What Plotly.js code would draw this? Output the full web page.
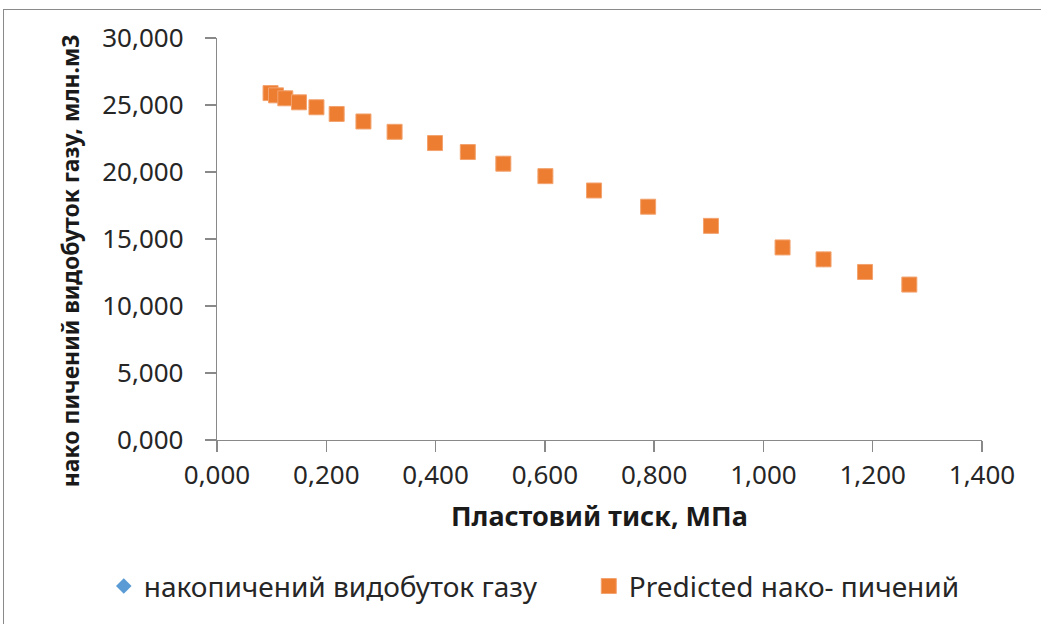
<!DOCTYPE html>
<html>
<head>
<meta charset="utf-8">
<script src="https://cdn.plot.ly/plotly-3.0.1.min.js"></script>
<style>
  html, body { margin: 0; padding: 0; background: #fff; overflow: hidden; }
  #chart { width: 1041px; height: 624px; }
  #frame { position: absolute; left: 3px; top: 9px; width: 1100px; height: 700px;
           border: 1.5px solid #8a8a8a; pointer-events: none; z-index: 10; }
</style>
</head>
<body>
<div id="frame"></div>
<div id="chart"></div>
<script>
// Пластовий тиск, МПа
const pressure = [0.098, 0.108, 0.125, 0.150, 0.182, 0.219, 0.268, 0.325, 0.399, 0.459,
                  0.524, 0.601, 0.690, 0.789, 0.904, 1.035, 1.110, 1.186, 1.267];
// накопичений видобуток газу, млн.м3
const actualProduction = [25.89, 25.72, 25.50, 25.20, 24.83, 24.33, 23.77, 23.00, 22.16, 21.49,
                          20.62, 19.69, 18.62, 17.41, 15.98, 14.37, 13.48, 12.54, 11.60];
// Predicted
const predictedProduction = [25.89, 25.72, 25.50, 25.20, 24.83, 24.33, 23.77, 23.00, 22.16, 21.49,
                             20.62, 19.69, 18.62, 17.41, 15.98, 14.37, 13.48, 12.54, 11.60];

const seriesNames = ['накопичений видобуток газу', 'Predicted нако- пичений'];
const xTitle = 'Пластовий тиск, МПа';
const yTitle = 'нако пичений видобуток газу, млн.м3';

const FONT = '"Noto Sans", "Open Sans", sans-serif';

const traces = [
  {
    x: pressure, y: actualProduction, name: seriesNames[0],
    type: 'scatter', mode: 'markers',
    marker: { symbol: 'diamond', size: 12, color: '#5B9BD5' },
    legend: 'legend'
  },
  {
    x: pressure, y: predictedProduction, name: seriesNames[1],
    type: 'scatter', mode: 'markers',
    marker: { symbol: 'square', size: 15, color: '#ED7D31',
              line: { color: '#F3A36F', width: 1 } },
    legend: 'legend2'
  }
];

const axisCommon = {
  showgrid: false, zeroline: false, showline: true,
  linecolor: '#898989', linewidth: 1.3,
  ticks: 'outside', ticklen: 11, tickcolor: '#898989', tickwidth: 1.3,
  tickformat: '.3f',
  tickfont: { family: FONT, size: 26, color: '#262626' }
};

const layout = {
  width: 1041, height: 624,
  margin: { l: 217, r: 59, t: 38, b: 181 },
  paper_bgcolor: 'rgba(0,0,0,0)', plot_bgcolor: 'rgba(0,0,0,0)',
  separators: ', ',
  showlegend: true,
  xaxis: Object.assign({}, axisCommon, {
    range: [0, 1.4], dtick: 0.2, tick0: 0, ticklabelstandoff: 0
  }),
  yaxis: Object.assign({}, axisCommon, {
    range: [0, 30], dtick: 5, tick0: 0, ticklabelstandoff: 16
  }),
  legend: {
    orientation: 'h', x: -0.148, xanchor: 'left', y: -0.364, yanchor: 'middle',
    font: { family: FONT, size: 28, color: '#262626' }, bgcolor: 'rgba(0,0,0,0)'
  },
  legend2: {
    orientation: 'h', x: 0.486, xanchor: 'left', y: -0.364, yanchor: 'middle',
    font: { family: FONT, size: 28, color: '#262626' }, bgcolor: 'rgba(0,0,0,0)'
  },
  annotations: [
    { text: xTitle, xref: 'paper', yref: 'paper', x: 0.5, y: -0.189,
      xanchor: 'center', yanchor: 'middle', showarrow: false,
      font: { family: FONT, size: 27, color: '#1a1a1a', weight: 'bold' } },
    { text: yTitle, xref: 'paper', yref: 'paper', x: -0.192, y: 0.445,
      xanchor: 'center', yanchor: 'middle', showarrow: false, textangle: -90,
      font: { family: FONT, size: 23, color: '#1a1a1a', weight: 'bold' } }
  ]
};

Plotly.newPlot('chart', traces, layout, { staticPlot: true, displayModeBar: false });
</script>
</body>
</html>
